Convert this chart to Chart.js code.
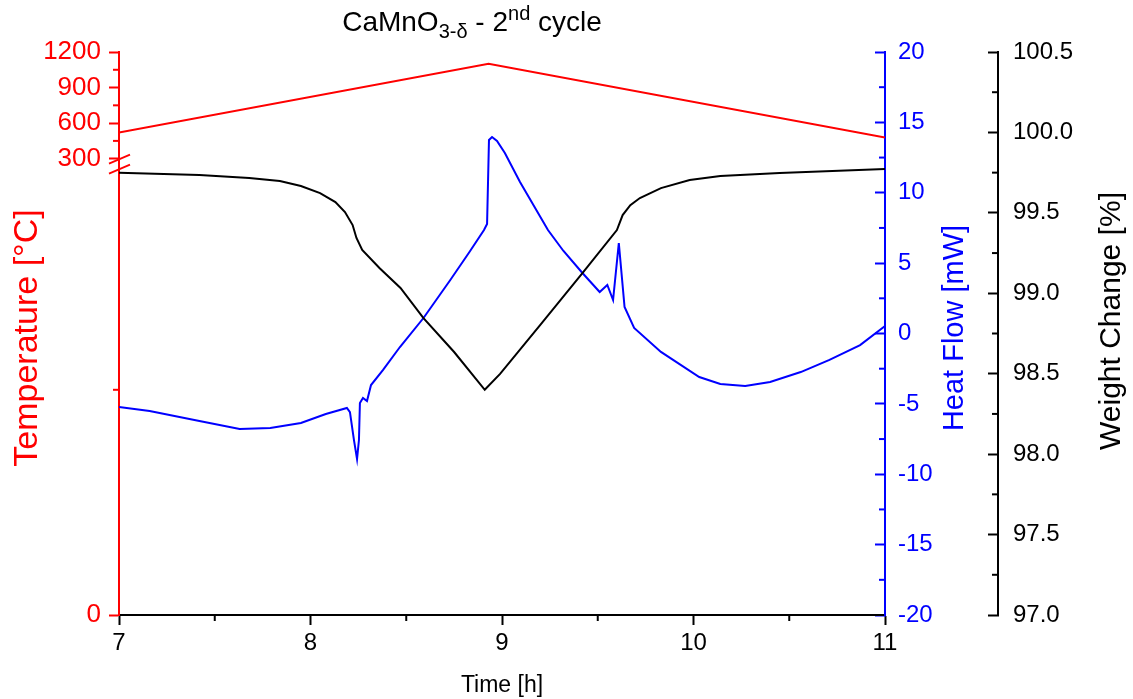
<!DOCTYPE html>
<html>
<head>
<meta charset="utf-8">
<script src="https://cdn.jsdelivr.net/npm/chart.js@4.4.1/dist/chart.umd.min.js"></script>
<style>
body { margin: 0; background: #fff; }
#wrap { position: relative; width: 1133px; height: 699px; }
#ttl { position: absolute; left: 0; top: 6px; width: 944px; text-align: center;
       font: 28px 'Liberation Sans', Arial, sans-serif; color: #000; line-height: 32px; }
#ttl sub { font-size: 20px; vertical-align: -7px; line-height: 0; }
#ttl sup { font-size: 20px; vertical-align: 11px; line-height: 0; }
</style>
</head>
<body>
<div id="wrap">
  <canvas id="c" width="1133" height="699"></canvas>
  <div id="ttl">CaMnO<sub>3-δ</sub> - 2<sup>nd</sup> cycle</div>
</div>
<script>
// tick labels
const timeTicks = [7, 8, 9, 10, 11];
const tempTicksUpper = [300, 600, 900, 1200];
const tempTicksLower = [0];
const heatTicks = [-20, -15, -10, -5, 0, 5, 10, 15, 20];
const weightTicks = [97.0, 97.5, 98.0, 98.5, 99.0, 99.5, 100.0, 100.5];

// temperature program [°C]
const tempTime = [7.0, 8.93, 11.0];
const tempValue = [521, 1100, 479];

// heat flow [mW]
const heatTime = [7.00, 7.16, 7.42, 7.63, 7.79, 7.95, 8.08, 8.19, 8.206, 8.227, 8.243, 8.253, 8.258, 8.274, 8.295, 8.316,
    8.379, 8.467, 8.59, 8.73, 8.83, 8.906, 8.922, 8.932, 8.948, 8.974, 9.015, 9.094, 9.24, 9.32, 9.42, 9.51, 9.55, 9.58,
    9.61, 9.64, 9.69, 9.83, 10.03, 10.14, 10.27, 10.40, 10.56, 10.71, 10.87, 11.00];
const heatValue = [-5.22, -5.51, -6.22, -6.79, -6.71, -6.36, -5.72, -5.29, -5.58, -7.57, -8.92, -7.57, -4.94, -4.58, -4.80, -3.66,
    -2.59, -0.96, 1.10, 3.80, 5.79, 7.35, 7.78, 13.75, 13.96, 13.68, 12.82, 10.76, 7.35, 5.88, 4.30, 2.95, 3.45, 2.38,
    6.43, 1.88, 0.39, -1.31, -3.09, -3.59, -3.73, -3.45, -2.74, -1.88, -0.82, 0.53];

// weight change [%]
const weightTime = [7.00, 7.42, 7.68, 7.84, 7.95, 8.05, 8.13, 8.18, 8.22, 8.24, 8.27, 8.36, 8.47, 8.59, 8.75, 8.91, 8.99,
    9.20, 9.42, 9.60, 9.63, 9.67, 9.72, 9.83, 9.98, 10.14, 10.45, 11.00];
const weightValue = [99.75, 99.735, 99.717, 99.698, 99.667, 99.623, 99.567, 99.505, 99.424, 99.344, 99.269, 99.157, 99.033,
    98.846, 98.635, 98.40, 98.499, 98.803, 99.126, 99.393, 99.486, 99.548, 99.592, 99.654, 99.704, 99.729, 99.748, 99.773];

function pts(xs, ys) { return xs.map(function (x, i) { return { x: x, y: ys[i] }; }); }
function mids(arr) {
    var out = [];
    for (var i = 1; i < arr.length; i++) out.push((arr[i - 1] + arr[i]) / 2);
    return out;
}
function setTicks(arr) { return function (scale) { scale.ticks = arr.map(function (v) { return { value: v }; }); }; }

Chart.defaults.font.family = "'Liberation Sans', Arial, sans-serif";

// minor ticks, axis break and y axis titles
const decor = {
    id: 'decor',
    afterDraw: function (chart) {
        var ctx = chart.ctx, sc = chart.scales, area = chart.chartArea;
        function line(x1, y1, x2, y2) { ctx.beginPath(); ctx.moveTo(x1, y1); ctx.lineTo(x2, y2); ctx.stroke(); }
        function vText(txt, x, y, size, color) {
            ctx.save();
            ctx.translate(x, y);
            ctx.rotate(-Math.PI / 2);
            ctx.font = size + "px 'Liberation Sans', Arial, sans-serif";
            ctx.fillStyle = color;
            ctx.textAlign = 'center';
            ctx.textBaseline = 'middle';
            ctx.fillText(txt, 0, 0);
            ctx.restore();
        }
        ctx.save();
        ctx.lineWidth = 2;
        ctx.strokeStyle = '#000';
        mids(timeTicks).forEach(function (v) { var p = sc.x.getPixelForValue(v); line(p, area.bottom, p, area.bottom + 6); });
        ctx.strokeStyle = 'red';
        mids(tempTicksUpper).forEach(function (v) { var p = sc.tUp.getPixelForValue(v); line(area.left, p, area.left - 6, p); });
        mids([sc.tLow.min, sc.tLow.max]).forEach(function (v) { var p = sc.tLow.getPixelForValue(v); line(area.left, p, area.left - 6, p); });
        ctx.strokeStyle = 'blue';
        mids(heatTicks).forEach(function (v) { var p = sc.hf.getPixelForValue(v); line(sc.hf.left, p, sc.hf.left - 6, p); });
        ctx.strokeStyle = '#000';
        mids(weightTicks).forEach(function (v) { var p = sc.wt.getPixelForValue(v); line(sc.wt.left, p, sc.wt.left - 6, p); });

        // axis break
        var yb = sc.tUp.bottom;
        ctx.strokeStyle = 'red';
        ctx.lineWidth = 1.8;
        line(area.left - 10, yb - 1, area.left + 11, yb - 10);
        line(area.left - 10, yb + 9, area.left + 11, yb);

        vText('Temperature [°C]', 28, 338, 34, 'red');
        vText('Heat Flow [mW]', 955, 328, 29, 'blue');
        vText('Weight Change [%]', 1112, 321, 30, '#000');
        ctx.restore();
    }
};

function leftAxis(min, max, ticks, weight) {
    return {
        type: 'linear', position: 'left', stack: 'temp', stackWeight: weight,
        min: min, max: max,
        afterBuildTicks: setTicks(ticks),
        afterFit: function (s) { s.width = 119; },
        border: { color: 'red', width: 2 },
        grid: { drawOnChartArea: false, tickLength: 10, tickColor: 'red', tickWidth: 2 },
        ticks: { color: 'red', font: { size: 26 }, padding: 8, autoSkip: false,
                 callback: function (v) { return String(v); } }
    };
}

new Chart(document.getElementById('c'), {
    type: 'line',
    data: {
        datasets: [
            { label: 'Temperature', data: pts(tempTime, tempValue), yAxisID: 'tUp', borderColor: 'red', borderWidth: 2 },
            { label: 'Weight', data: pts(weightTime, weightValue), yAxisID: 'wt', borderColor: '#000', borderWidth: 2 },
            { label: 'Heat Flow', data: pts(heatTime, heatValue), yAxisID: 'hf', borderColor: 'blue', borderWidth: 2 }
        ]
    },
    options: {
        responsive: false,
        animation: false,
        layout: { padding: { top: 52 } },
        elements: { point: { radius: 0 }, line: { tension: 0 } },
        plugins: { legend: { display: false }, tooltip: { enabled: false } },
        scales: {
            x: {
                type: 'linear', position: 'bottom', min: 7, max: 11,
                afterBuildTicks: setTicks(timeTicks),
                afterFit: function (s) { s.height = 84; },
                border: { color: '#000', width: 2 },
                grid: { drawOnChartArea: false, tickLength: 10, tickColor: '#000', tickWidth: 2 },
                ticks: { color: '#000', font: { size: 24 }, padding: 4, maxRotation: 0 },
                title: { display: true, text: 'Time [h]', color: '#000', font: { size: 23 }, padding: { top: 0, bottom: 0 } }
            },
            // left stacked axes: the one declared last is placed on top
            tLow: leftAxis(0, 250, tempTicksLower, 4),
            tUp: leftAxis(250, 1200, tempTicksUpper, 1),
            hf: {
                type: 'linear', position: 'right', min: -20, max: 20,
                afterBuildTicks: setTicks(heatTicks),
                afterFit: function (s) { s.width = 113; },
                border: { color: 'blue', width: 2 },
                grid: { drawOnChartArea: false, tickLength: -10, tickColor: 'blue', tickWidth: 2 },
                ticks: { color: 'blue', font: { size: 24 }, padding: 23, autoSkip: false }
            },
            wt: {
                type: 'linear', position: 'right', min: 97, max: 100.5,
                afterBuildTicks: setTicks(weightTicks),
                afterFit: function (s) { s.width = 135; },
                border: { color: '#000', width: 2 },
                grid: { drawOnChartArea: false, tickLength: -10, tickColor: '#000', tickWidth: 2 },
                ticks: { color: '#000', font: { size: 24 }, padding: 25, autoSkip: false,
                         callback: function (v) { return v.toFixed(1); } }
            }
        }
    },
    plugins: [decor]
});
</script>
</body>
</html>
